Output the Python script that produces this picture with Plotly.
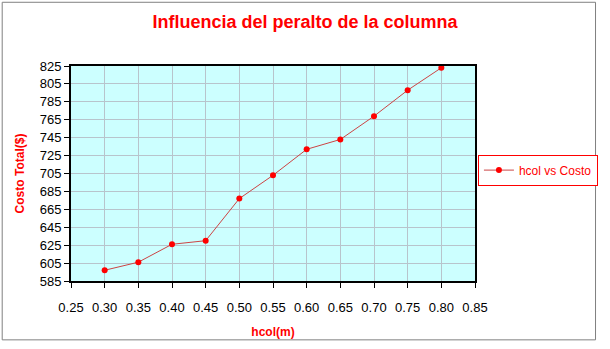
import plotly.graph_objects as go

hcol = [0.30, 0.35, 0.40, 0.45, 0.50, 0.55, 0.60, 0.65, 0.70, 0.75, 0.80]
costo = [597, 606, 626, 630, 677, 703, 732, 743, 769, 798, 823]
x_ticks = [0.25, 0.30, 0.35, 0.40, 0.45, 0.50, 0.55, 0.60, 0.65, 0.70, 0.75, 0.80, 0.85]
y_ticks = list(range(585, 826, 20))

W, H = 610, 349
L, R, T, B = 71, 125, 66, 62

fig = go.Figure()
fig.add_trace(go.Scatter(
    x=hcol, y=costo, mode="lines+markers", name="hcol vs Costo",
    line=dict(color="#cc4444", width=1),
    marker=dict(color="#ff0000", size=6),
))

pw = W - L - R
ph = H - T - B
fig.add_shape(type="rect", xref="paper", yref="paper",
              x0=-L / pw + 0.5 / pw, x1=1 + (R - 1.5) / pw,
              y0=-B / ph + 1.5 / ph, y1=1 + (T - 0.5) / ph,
              line=dict(color="#808080", width=1), layer="below")

fig.update_layout(
    width=W, height=H,
    margin=dict(l=L, r=R, t=T, b=B),
    paper_bgcolor="white", plot_bgcolor="#ccffff",
    font=dict(family="Arial, Liberation Sans", size=13, color="black"),
    title=dict(text="<b>Influencia del peralto de la columna</b>",
               x=0.5, xref="container", y=1 - 22 / H, yanchor="middle",
               font=dict(size=18, color="#ff0000")),
    showlegend=True,
    legend=dict(x=(488 - L) / pw, xanchor="left", y=(H - B - 173) / ph, yanchor="middle",
                bordercolor="#ff0000", borderwidth=1, bgcolor="white",
                font=dict(size=12, color="#ff0000")),
    xaxis=dict(range=[0.25, 0.85], tickvals=x_ticks,
               ticktext=[f"{v:.2f}" for v in x_ticks],
               showgrid=True, gridcolor="#b8c4cc", gridwidth=1,
               showline=True, linecolor="black", linewidth=2, mirror=True,
               ticks="outside", ticklen=5, tickcolor="black", zeroline=False,
               ticklabelstandoff=8,
               title=dict(text="<b>hcol(m)</b>", font=dict(size=12, color="#ff0000"), standoff=14)),
    yaxis=dict(range=[585, 825], tickvals=y_ticks,
               showgrid=True, gridcolor="#b8c4cc", gridwidth=1,
               showline=True, linecolor="black", linewidth=2, mirror=True,
               ticks="outside", ticklen=5, tickcolor="black", zeroline=False,
               title=dict(text="<b>Costo Total($)</b>", font=dict(size=12, color="#ff0000"), standoff=12)),
)

fig.write_html("out.html")
